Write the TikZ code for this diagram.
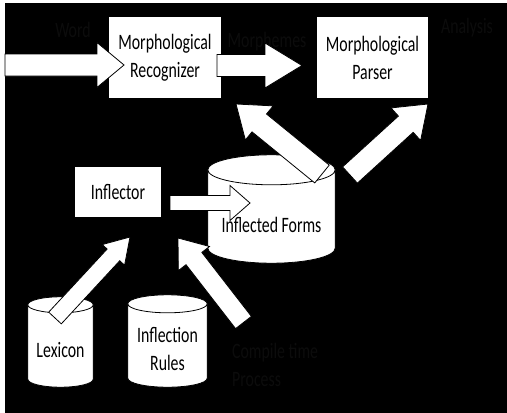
\documentclass[tikz,border=0pt]{standalone}
\usepackage{fontspec}
\newfontfamily\narrowfont[FakeStretch=0.72]{Carlito}
\usetikzlibrary{calc}
\definecolor{shade}{RGB}{12,12,12}

% wide white arrow: body half width, head half width, head length, from, to
\newcommand{\blockarrow}[5]{%
  \coordinate (ba) at ($(#5)!#3pt!(#4)$);
  \draw[fill=white,draw=black,line width=0.8pt]
    ($(#4)!#1pt!90:(#5)$) -- ($(ba)!#1pt!90:(#5)$) -- ($(ba)!#2pt!90:(#5)$) -- (#5)
    -- ($(ba)!#2pt!-90:(#5)$) -- ($(ba)!#1pt!-90:(#5)$) -- ($(#4)!#1pt!-90:(#5)$) -- cycle;}
% drum round a node: node, ellipse radius
\newcommand{\drum}[2]{%
  \draw[fill=white,draw=black,line width=0.8pt] let \p1=($(#1.east)-(#1.west)$) in
    ($(#1.north west)+(0,#2)$) -- ($(#1.south west)+(0,-#2)$)
    arc[start angle=180,end angle=360,x radius=0.5*\x1,y radius=#2pt]
    -- ($(#1.north east)+(0,#2)$)
    arc[start angle=0,end angle=180,x radius=0.5*\x1,y radius=#2pt] -- cycle
    ($(#1.north west)+(0,#2)$) arc[start angle=180,end angle=360,x radius=0.5*\x1,y radius=#2pt];}

\begin{document}
\begin{tikzpicture}[x=1pt,y=-1pt,font=\narrowfont\fontsize{22}{28}\selectfont]
\useasboundingbox (0,0) rectangle (507,413);
\fill[black] (5,3) rectangle (507,413);
\begin{scope}[every node/.style={rectangle,fill=white,align=center,inner sep=0pt}]
    \node[minimum width=112pt,minimum height=81pt] (recog) at (165,57.5) {Morphological\\Recognizer};
    \node[minimum width=111pt,minimum height=81pt] (parser) at (372.5,57.5) {Morphological\\Parser};
    \node[minimum width=86pt,minimum height=50pt] (inflector) at (118,192) {Inflector};
\end{scope}
\begin{scope}[every node/.style={rectangle,inner sep=0pt}]
    \node[minimum width=127pt,minimum height=108pt] (forms) at (271.5,209) {};
    \node[minimum width=65pt,minimum height=90pt] (lexicon) at (60.5,342) {};
    \node[minimum width=79pt,minimum height=92pt] (rules) at (167.5,341) {};
\end{scope}
\drum{forms}{15}
\drum{lexicon}{8}
\drum{rules}{9}
\begin{scope}[every node/.style={inner sep=0pt,align=center}]
    \node (formstext) at ($(forms.center)+(0,16)$) {Inflected Forms};
    \node (lexicontext) at ($(lexicon.center)+(0,8)$) {Lexicon};
    \node (rulestext) at ($(rules.center)+(0,8)$) {Inflection\\Rules};
\end{scope}
\begin{scope}[every node/.style={text=shade,inner sep=0pt}]
    \node (word) at (73,30) {Word};
    \node (morphemes) at (267,42) {Morphemes};
    \node (analysis) at (467,28) {Analysis};
    \node[align=left,anchor=west] (compile) at (232,365) {Compile time\\Process};
\end{scope}
% arrow ends
\coordinate (wordin) at (5,65);
\coordinate (recogin) at (124,65);
\coordinate (recogout) at (217,65.5);
\coordinate (parserin) at (302,65.5);
\coordinate (formsleft) at (322,174);
\coordinate (recogback) at (236,104);
\coordinate (formsright) at (350,175);
\coordinate (parserback) at (428,104);
\coordinate (inflout) at (170,203);
\coordinate (formsin) at (250,203);
\coordinate (lexiconout) at (55,318);
\coordinate (inflleft) at (130,237);
\coordinate (compileout) at (243.5,322.5);
\coordinate (inflright) at (178,238);
\blockarrow{11}{22.5}{27}{wordin}{recogin}
\blockarrow{11}{22.5}{37}{recogout}{parserin}
\blockarrow{11.5}{22}{30}{formsleft}{recogback}
\blockarrow{11}{22}{30}{formsright}{parserback}
\blockarrow{7.5}{17.5}{20}{inflout}{formsin}
\blockarrow{8.6}{15.2}{24.4}{lexiconout}{inflleft}
\blockarrow{10}{19.7}{26}{compileout}{inflright}
\end{tikzpicture}
\end{document}
